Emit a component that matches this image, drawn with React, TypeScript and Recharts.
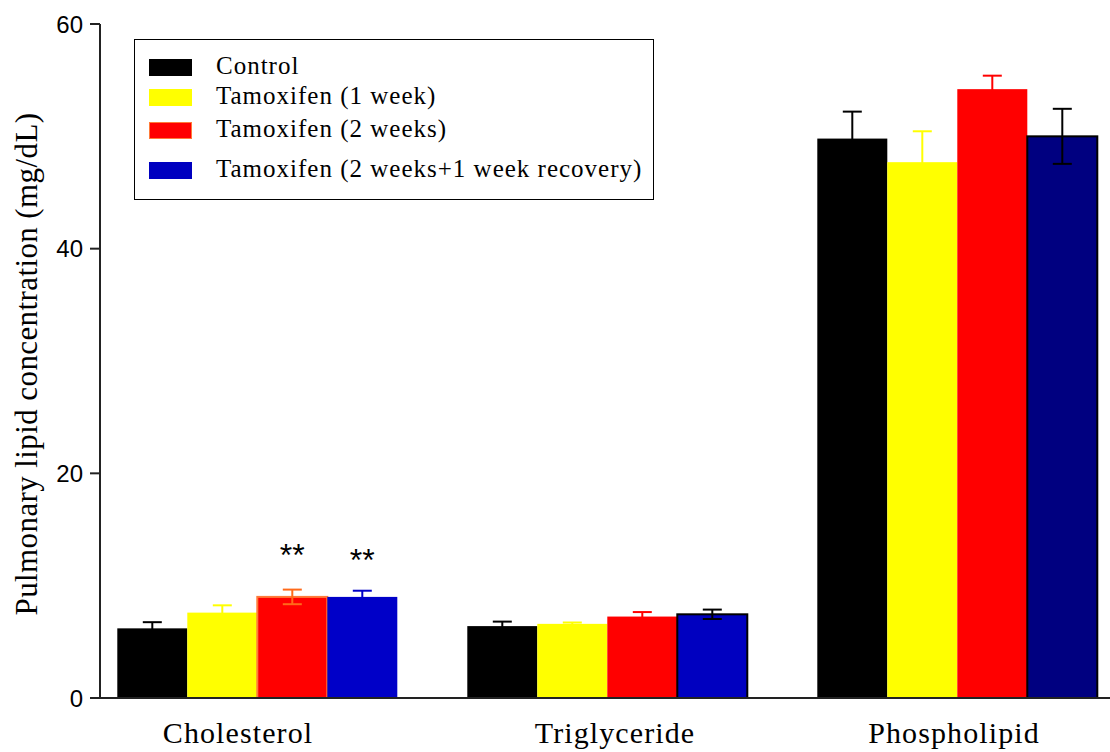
import { BarChart, Bar, XAxis, YAxis, Legend, LabelList, Label } from 'recharts'

const categories = ['Cholesterol', 'Triglyceride', 'Phospholipid']
const seriesNames = ['Control', 'Tamoxifen (1 week)', 'Tamoxifen (2 weeks)', 'Tamoxifen (2 weeks+1 week recovery)']

const control = [6.2, 6.4, 49.8]
const controlSem = [0.55, 0.4, 2.4]
const tam1w = [7.6, 6.6, 47.7]
const tam1wSem = [0.65, 0.12, 2.75]
const tam2w = [9.0, 7.25, 54.2]
const tam2wSem = [0.65, 0.4, 1.2]
const tam2w1r = [9.0, 7.45, 50.0]
const tam2w1rSem = [0.55, 0.42, 2.45]
const tam2wStars = ['**', '', '']
const tam2w1rStars = ['**', '', '']
const yTicks = [0, 20, 40, 60]

const keys = ['control', 'tam1w', 'tam2w', 'tam2w1r']

const data = categories.map((name, i) => ({
  name,
  control: control[i],
  controlSem: controlSem[i],
  tam1w: tam1w[i],
  tam1wSem: tam1wSem[i],
  tam2w: tam2w[i],
  tam2wSem: tam2wSem[i],
  tam2w1r: tam2w1r[i],
  tam2w1rSem: tam2w1rSem[i],
  tam2wStars: tam2wStars[i],
  tam2w1rStars: tam2w1rStars[i],
}))

// per series, per category
const fills = [
  ['#000000', '#000000', '#000000'],
  ['#ffff00', '#ffff00', '#ffff00'],
  ['#ff0000', '#ff0000', '#ff0000'],
  ['#0000c8', '#0000c0', '#000080'],
]
const edges = [
  ['none', 'none', 'none'],
  ['none', 'none', 'none'],
  ['#ff7b3a', 'none', 'none'],
  ['none', '#000000', '#000000'],
]
const errColors = [
  ['#000000', '#000000', '#000000'],
  ['#ffff00', '#ffff00', '#ffff00'],
  ['#ff6a1a', '#ff0000', '#ff0000'],
  ['#0000c8', '#000000', '#000000'],
]
const legendSwatch = [
  { fill: '#000000', edge: '#000000' },
  { fill: '#ffff00', edge: '#ffff00' },
  { fill: '#ff0000', edge: '#ff7b3a' },
  { fill: '#0000c0', edge: '#0000c0' },
]
const labelShift = [-20, 7, -4]

const serif = '"Times New Roman", "Liberation Serif", serif'
const sans = 'Arial, "Liberation Sans", sans-serif'

function makeShape(s: number) {
  return (props: any) => {
    const { x, y, width, height, payload, index } = props
    const key = keys[s]
    const value = payload[key]
    const err = payload[key + 'Sem']
    const errPx = value ? (err * height) / value : 0
    const cx = x + width / 2
    const ec = errColors[s][index]
    const edge = edges[s][index]
    return (
      <g>
        <rect x={x} y={y} width={width} height={height} fill={fills[s][index]}
          stroke={edge} strokeWidth={edge === 'none' ? 0 : 2} />
        <line x1={cx} x2={cx} y1={y - errPx} y2={y + errPx} stroke={ec} strokeWidth={2} />
        <line x1={cx - 9.5} x2={cx + 9.5} y1={y - errPx} y2={y - errPx} stroke={ec} strokeWidth={2} />
        <line x1={cx - 9.5} x2={cx + 9.5} y1={y + errPx} y2={y + errPx} stroke={ec} strokeWidth={2} />
      </g>
    )
  }
}

function starLabel(lift: number) {
  return (props: any) => {
    const { x, y, width, value } = props
    if (!value) return null
    return (
      <text x={x + width / 2} y={y - lift} textAnchor="middle" fontFamily={sans} fontSize={32} fill="#000">
        {value}
      </text>
    )
  }
}

function CategoryTick(props: any) {
  const { x, y, payload, index } = props
  return (
    <text x={x + labelShift[index]} y={y + 37} textAnchor="middle" fontFamily={serif} fontSize={30}
      letterSpacing={1.1} fill="#000">
      {payload.value}
    </text>
  )
}

function LegendBox() {
  const tops = [19, 49, 82, 122]
  return (
    <div style={{ position: 'relative', width: 518, height: 159, border: '1.5px solid #000', background: '#fff', fontFamily: serif }}>
      {seriesNames.map((n, i) => (
        <div key={n}>
          <div style={{ position: 'absolute', left: 14, top: tops[i], width: 41, height: 15,
            background: legendSwatch[i].fill, border: `1px solid ${legendSwatch[i].edge}` }} />
          <div style={{ position: 'absolute', left: 81, top: tops[i] - 8, fontSize: 25, letterSpacing: 1,
            lineHeight: '30px', color: '#000', whiteSpace: 'nowrap' }}>
            {n}
          </div>
        </div>
      ))}
    </div>
  )
}

export default function App() {
  return (
    <div style={{ position: 'absolute', left: 0, top: 0, width: 1110, height: 752, background: '#fff' }}>
      <BarChart width={1110} height={752} data={data} margin={{ top: 24, right: 0, bottom: 0, left: 0 }}
        barCategoryGap="9.8%" barGap={0}>
        <XAxis dataKey="name" height={54} padding={{ left: -17, right: -23 }} tickLine={false}
          axisLine={{ stroke: '#222', strokeWidth: 2 }} tick={<CategoryTick />} interval={0} />
        <YAxis width={100} domain={[0, 60]} ticks={yTicks} tickSize={10} tickMargin={7}
          axisLine={{ stroke: '#222', strokeWidth: 2 }} tickLine={{ stroke: '#222', strokeWidth: 2 }}
          tick={{ fontSize: 24, fill: '#000', fontFamily: sans }}>
          <Label content={() => (
            <text transform="translate(37, 364) rotate(-90)" textAnchor="middle" fontFamily={serif}
              fontSize={31} letterSpacing={0.4} fill="#000">
              Pulmonary lipid concentration (mg/dL)
            </text>
          )} />
        </YAxis>
        <Legend layout="vertical" align="center" verticalAlign="middle" content={<LegendBox />}
          wrapperStyle={{ position: 'absolute', left: 134, top: 39, width: 521, height: 162 }} />
        <Bar dataKey="control" name={seriesNames[0]} shape={makeShape(0)} isAnimationActive={false} />
        <Bar dataKey="tam1w" name={seriesNames[1]} shape={makeShape(1)} isAnimationActive={false} />
        <Bar dataKey="tam2w" name={seriesNames[2]} shape={makeShape(2)} isAnimationActive={false}>
          <LabelList dataKey="tam2wStars" content={starLabel(31)} />
        </Bar>
        <Bar dataKey="tam2w1r" name={seriesNames[3]} shape={makeShape(3)} isAnimationActive={false}>
          <LabelList dataKey="tam2w1rStars" content={starLabel(26)} />
        </Bar>
      </BarChart>
    </div>
  )
}
